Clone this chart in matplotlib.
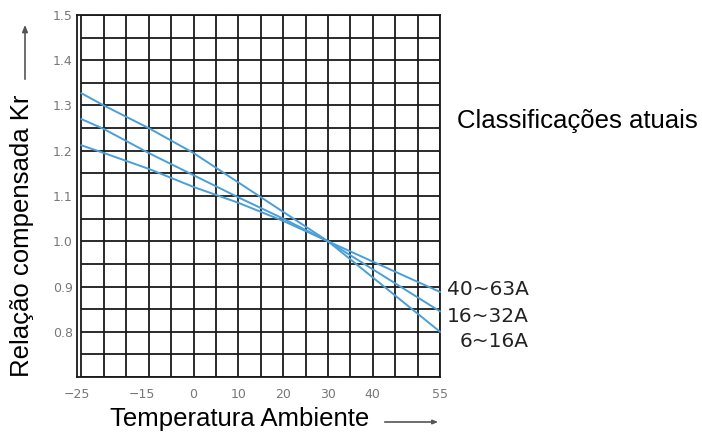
import matplotlib
matplotlib.use("Agg")
import matplotlib.pyplot as plt
from matplotlib.patches import FancyArrowPatch
import numpy as np

# temperatures (one column = 5 degC)
temps = [-25, -20, -10, 0, 10, 20, 30, 40, 55]

kr_6_16 = [1.327, 1.30, 1.25, 1.195, 1.13, 1.065, 1.00, 0.92, 0.80]
kr_16_32 = [1.27, 1.248, 1.195, 1.146, 1.097, 1.05, 1.00, 0.938, 0.845]
kr_40_63 = [1.212, 1.195, 1.16, 1.12, 1.085, 1.045, 1.00, 0.955, 0.888]

series_names = ["40~63A", "16~32A", "6~16A"]

# tick labels as printed on the chart (the -15 label sits off its grid line)
x_tick_pos = [-26, -11.5, 0, 10, 20, 30, 40, 55]
x_tick_labels = ["\u221225", "\u221215", "0", "10", "20", "30", "40", "55"]
y_tick_pos = [0.8, 0.9, 1.0, 1.1, 1.2, 1.3, 1.4, 1.5]
y_tick_labels = ["0.8", "0.9", "1.0", "1.1", "1.2", "1.3", "1.4", "1.5"]

W, H = 702, 432
fig = plt.figure(figsize=(W / 100, H / 100), dpi=100)
ax = fig.add_axes([77 / W, 1 - 377 / H, (440 - 77) / W, (377 - 15) / H])

ax.set_xlim(-25, 55)
ax.set_ylim(0.7, 1.5)

# grid of 5 degC x 0.05
grid_col = "#1a1a1a"
ax.vlines(np.arange(-25, 56, 5), 0.7, 1.5, color=grid_col, linewidth=1.3, zorder=1)
ax.hlines(np.arange(0.7, 1.501, 0.05), -25, 55, color=grid_col, linewidth=1.3, zorder=1)
for s in ax.spines.values():
    s.set_color(grid_col)
    s.set_linewidth(1.3)

ax.set_xticks(x_tick_pos)
ax.set_xticklabels(x_tick_labels)
ax.set_yticks(y_tick_pos)
ax.set_yticklabels(y_tick_labels)
ax.tick_params(which="both", length=0)
ax.tick_params(axis="x", pad=8, labelsize=9, labelcolor="#777777")
ax.tick_params(axis="y", pad=3, labelsize=9, labelcolor="#777777")

blue = "#4a9fd8"
for kr in [kr_40_63, kr_16_32, kr_6_16]:
    ax.plot(temps, kr, color=blue, linewidth=1.4, clip_on=False, zorder=3)

# curve labels on the right
label_x = 529 / W
for name, ypix in zip(series_names, [295, 322, 347]):
    fig.text(label_x, 1 - ypix / H, name, ha="right", va="baseline",
             fontsize=14.5, color="#222222", family="DejaVu Sans")

fig.text(457 / W, 1 - 128 / H, "Classificações atuais", ha="left",
         va="baseline", fontsize=18.5, family="Liberation Sans")

fig.text(110 / W, 1 - 426 / H, "Temperatura Ambiente", ha="left",
         va="baseline", fontsize=18.5, family="Liberation Sans")
fig.text(22 / W, 1 - 236 / H, "Relação compensada Kr", rotation=90,
         ha="center", va="center", fontsize=18.5, family="Liberation Sans")

# little arrows next to the axis titles
fig.add_artist(FancyArrowPatch(
    (25 / W, 1 - 82 / H), (25 / W, 1 - 22 / H), transform=fig.transFigure,
    arrowstyle="-|>,head_length=4,head_width=1.6", color="#555555",
    linewidth=1.2))
fig.add_artist(FancyArrowPatch(
    (382 / W, 1 - 422 / H), (441 / W, 1 - 422 / H), transform=fig.transFigure,
    arrowstyle="-|>,head_length=3,head_width=1.2", color="#555555",
    linewidth=1.2))

fig.savefig("out.png", dpi=100)
